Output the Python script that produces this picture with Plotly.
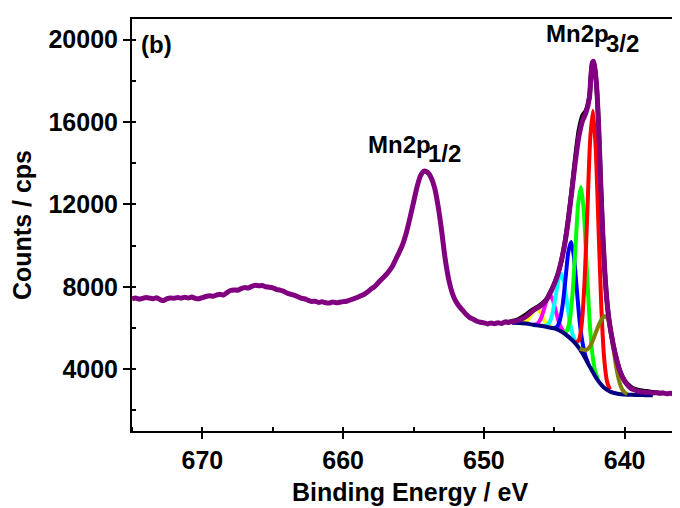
import plotly.graph_objects as go

# ---- measured envelope (purple) ----
env_x = [675.00, 674.75, 674.50, 674.25, 674.00, 673.75, 673.50, 673.25, 673.00, 672.75,
         672.50, 672.25, 672.00, 671.75, 671.50, 671.25, 671.00, 670.75, 670.50, 670.25,
         670.00, 669.75, 669.50, 669.25, 669.00, 668.75, 668.50, 668.25, 668.00, 667.75,
         667.50, 667.25, 667.00, 666.75, 666.50, 666.25, 666.00, 665.75, 665.50, 665.25,
         665.00, 664.75, 664.50, 664.25, 664.00, 663.75, 663.50, 663.25, 663.00, 662.75,
         662.50, 662.25, 662.00, 661.75, 661.50, 661.25, 661.00, 660.75, 660.50, 660.25,
         660.00, 659.75, 659.50, 659.25, 659.00, 658.75, 658.50, 658.25, 658.00, 657.75,
         657.50, 657.25, 657.00, 656.75, 656.50, 656.25, 656.00, 655.75, 655.50, 655.25,
         655.00, 654.75, 654.50, 654.25, 654.00, 653.75, 653.50, 653.25, 653.00, 652.75,
         652.50, 652.25, 652.00, 651.75, 651.50, 651.25, 651.00, 650.75, 650.50, 650.25,
         650.00, 649.75, 649.50, 649.25, 649.00, 648.75, 648.50, 648.25, 648.00, 647.75,
         647.50, 647.25, 647.00, 646.75, 646.50, 646.25, 646.00, 645.75, 645.50, 645.25,
         645.00, 644.75, 644.50, 644.25, 644.00, 643.75, 643.50, 643.25, 643.00, 642.75,
         642.50, 642.40, 642.30, 642.22, 642.15, 642.00, 641.85, 641.70, 641.55, 641.40,
         641.25, 641.10, 640.95, 640.80, 640.60, 640.40, 640.20, 640.00, 639.75, 639.50,
         639.25, 639.00, 638.75, 638.50, 638.25, 638.00, 637.75, 637.50, 637.25, 637.00,
         636.75, 636.50, 636.25, 636.00, 635.75]
env_y = [7420, 7460, 7400, 7440, 7480, 7450, 7420, 7470, 7380, 7330,
         7430, 7460, 7440, 7480, 7450, 7490, 7460, 7500, 7440, 7420,
         7480, 7530, 7560, 7540, 7600, 7640, 7600, 7720, 7820, 7850,
         7830, 7910, 7960, 7940, 8020, 8080, 8050, 8060, 8000, 7980,
         7950, 7880, 7840, 7790, 7700, 7640, 7600, 7530, 7450, 7420,
         7350, 7290, 7300, 7240, 7270, 7230, 7210, 7260, 7220, 7250,
         7280, 7300, 7360, 7420, 7480, 7560, 7640, 7760, 7900, 8020,
         8200, 8380, 8550, 8760, 9000, 9350, 9700, 10100, 10650, 11350,
         12100, 12850, 13400, 13620, 13560, 13300, 12800, 11900, 10700, 9350,
         8350, 7700, 7300, 7050, 6850, 6650, 6500, 6420, 6330, 6280,
         6250, 6200, 6240, 6210, 6250, 6220, 6290, 6270, 6310, 6330,
         6380, 6460, 6560, 6700, 6850, 6960, 7060, 7200, 7420, 7750,
         8130, 8600, 9250, 10100, 11250, 12650, 14100, 15300, 16050, 16450,
         17200, 18200, 18850, 18950, 18750, 17800, 15800, 13000, 10500, 8600,
         7250, 6350, 5700, 5150, 4550, 4050, 3680, 3420, 3200, 3050,
         2980, 2920, 2900, 2870, 2880, 2850, 2860, 2830, 2850, 2810,
         2830, 2800, 2820, 2790, 2810]

# ---- raw data visible under the envelope (black) ----
raw_x = [648.50, 648.25, 648.00, 647.75, 647.50, 647.25, 647.00, 646.75, 646.50, 646.25,
         646.00, 645.75, 645.50, 645.25, 645.00, 644.75, 644.50, 644.25, 644.00, 643.75,
         643.50, 643.25, 643.00, 642.75, 642.50, 642.40, 642.30, 642.22, 642.15, 642.00,
         641.85, 641.70, 641.55, 641.40, 641.25, 641.10, 640.95, 640.80, 640.60, 640.40,
         640.20, 640.00, 639.75, 639.50, 639.25, 639.00, 638.75, 638.50, 638.25, 638.00,
         637.75, 637.50, 637.25]
raw_y = [6300, 6290, 6330, 6370, 6430, 6540, 6650, 6780, 6900, 7000,
         7120, 7260, 7460, 7780, 8150, 8600, 9250, 10150, 11350, 12750,
         14300, 15600, 16300, 16550, 17250, 18200, 18850, 18950, 18750, 17800,
         15800, 13000, 10500, 8600, 7250, 6350, 5700, 5150, 4550, 4050,
         3700, 3450, 3250, 3110, 3030, 2980, 2950, 2930, 2910, 2880,
         2870, 2850, 2840]

# ---- Shirley background (navy) ----
bg_x = [648.0, 647.5, 647.0, 646.5, 646.0, 645.5, 645.0, 644.5, 644.0, 643.5,
        643.0, 642.5, 642.0, 641.5, 641.0, 640.5, 640.0, 639.5, 639.0, 638.5, 638.0]
bg_y = [6260, 6240, 6215, 6160, 6110, 6050, 5980, 5830, 5580, 5250,
        4780, 4150, 3550, 3120, 2900, 2810, 2770, 2755, 2745, 2740, 2735]

# ---- fitted components ----
yel_x = [647.45, 647.25, 647.05, 646.85, 646.65, 646.45, 646.25, 646.05, 645.85, 645.65, 645.45, 645.25, 645.05]
yel_y = [6236, 6245, 6300, 6420, 6640, 6860, 6940, 6815, 6560, 6310, 6135, 6040, 5990]

mag_x = [646.5, 646.3, 646.1, 645.9, 645.7, 645.5, 645.3, 645.1, 644.9, 644.7, 644.5, 644.3, 644.1]
mag_y = [6160, 6180, 6280, 6540, 6980, 7420, 7590, 7360, 6840, 6340, 6000, 5780, 5640]

cyan_x = [645.7, 645.5, 645.3, 645.1, 644.9, 644.7, 644.5, 644.3, 644.1, 643.9, 643.7, 643.5, 643.3]
cyan_y = [6100, 6140, 6330, 6800, 7560, 8340, 8640, 8180, 7250, 6320, 5690, 5340, 5080]

blue_x = [645.0, 644.8, 644.6, 644.4, 644.2, 644.0, 643.8, 643.6, 643.4, 643.2, 643.0, 642.8, 642.6]
blue_y = [6010, 6070, 6380, 7140, 8400, 9700, 10180, 9440, 7880, 6330, 5300, 4680, 4310]

green_x = [644.3, 644.1, 643.9, 643.7, 643.5, 643.3, 643.1, 642.9, 642.7, 642.5, 642.3, 642.1, 641.9]
green_y = [5790, 5880, 6380, 7680, 9860, 12040, 12850, 11630, 9010, 6450, 4780, 3920, 3520]

red_x = [643.45, 643.25, 643.05, 642.85, 642.65, 642.45, 642.25, 642.05, 641.85, 641.65, 641.45, 641.25, 641.05]
red_y = [5300, 5410, 6210, 8230, 11640, 15150, 16550, 14670, 10720, 6900, 4480, 3400, 3010]

olive_x = [643.2, 643.0, 642.8, 642.6, 642.4, 642.2, 642.0, 641.8, 641.6, 641.4, 641.2, 641.0,
           640.8, 640.6, 640.4, 640.2, 640.0, 639.8]
olive_y = [5000, 4950, 4920, 4990, 5180, 5500, 5870, 6200, 6460, 6580, 6450, 5900,
           5000, 4100, 3450, 3050, 2870, 2800]

x_ticks = [670, 660, 650, 640]
y_ticks = [4000, 8000, 12000, 16000, 20000]

FONT = "Liberation Sans, Arial, sans-serif"

fig = go.Figure()

def add_line(x, y, color, width):
    fig.add_trace(go.Scatter(x=x, y=y, mode="lines",
                             line=dict(color=color, width=width, shape="spline", smoothing=0.6),
                             hoverinfo="skip", showlegend=False))

add_line(raw_x, raw_y, "#000000", 4.5)
add_line(yel_x, yel_y, "#FFFF00", 4)
add_line(mag_x, mag_y, "#FF00FF", 4)
add_line(cyan_x, cyan_y, "#00FFFF", 4)
add_line(blue_x, blue_y, "#0000FF", 4)
add_line(green_x, green_y, "#00FF00", 4)
add_line(red_x, red_y, "#FF0000", 4)
add_line(bg_x, bg_y, "#000080", 4)
add_line(olive_x, olive_y, "#808000", 4)
add_line(env_x, env_y, "#800080", 5)

ann_font = dict(family=FONT, size=24, color="black", weight="bold")
annotations = [
    dict(x=674.4, y=19782, text="(b)", xanchor="left", yanchor="middle", xshift=0),
    dict(x=653.84, y=14900, text="Mn2p", xanchor="right", yanchor="middle", xshift=2),
    dict(x=653.84, y=14470, text="1/2", xanchor="left", yanchor="middle", xshift=-3),
    dict(x=641.18, y=20290, text="Mn2p", xanchor="right", yanchor="middle", xshift=2),
    dict(x=641.18, y=19810, text="3/2", xanchor="left", yanchor="middle", xshift=-3),
]
for a in annotations:
    a.update(showarrow=False, xref="x", yref="y", font=ann_font, borderpad=0)

fig.update_layout(
    width=680, height=508,
    margin=dict(l=124, r=0, t=11, b=85),
    paper_bgcolor="white", plot_bgcolor="white",
    annotations=annotations,
    xaxis=dict(
        range=[675, 635.5], tickvals=x_ticks, ticktext=[str(v) for v in x_ticks],
        showline=True, linecolor="black", linewidth=2, mirror=True,
        ticks="outside", ticklen=6, tickwidth=2, tickcolor="black",
        minor=dict(ticks="inside", ticklen=4, tickwidth=2, tickcolor="black", dtick=5, tick0=635),
        showgrid=False, zeroline=False,
        tickfont=dict(family=FONT, size=25, color="black", weight="bold"),
        title=dict(text="Binding Energy / eV", standoff=10,
                   font=dict(family=FONT, size=25, color="black", weight="bold")),
    ),
    yaxis=dict(
        range=[1000, 21000], tickvals=y_ticks, ticktext=[str(v) for v in y_ticks],
        showline=True, linecolor="black", linewidth=2,
        ticks="outside", ticklen=7, tickwidth=2, tickcolor="black",
        minor=dict(ticks="inside", ticklen=4, tickwidth=2, tickcolor="black", dtick=2000, tick0=0),
        showgrid=False, zeroline=False,
        tickfont=dict(family=FONT, size=25, color="black", weight="bold"),
        title=dict(text="Counts / cps", standoff=12,
                   font=dict(family=FONT, size=25, color="black", weight="bold")),
    ),
)

fig.write_html("out.html")
